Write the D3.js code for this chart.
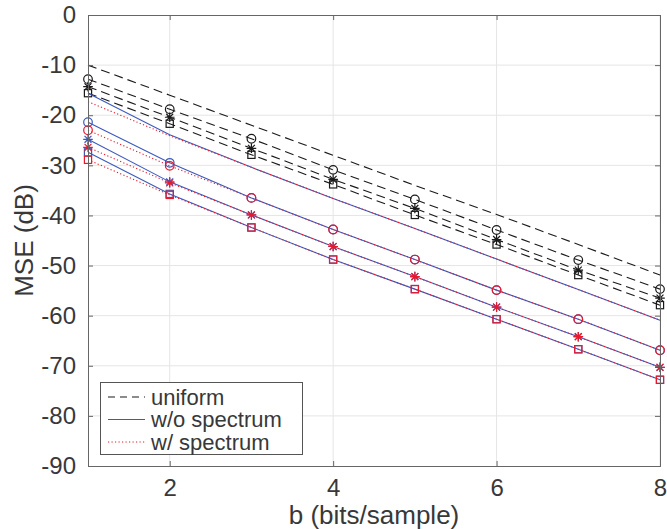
<!DOCTYPE html>
<html><head><meta charset="utf-8">
<script src="https://cdn.jsdelivr.net/npm/d3@7"></script>
<style>body{margin:0;background:#fff}svg{display:block}text{font-family:"Liberation Sans",Arial,sans-serif;fill:#383838}</style>
</head><body>
<svg id="c" width="667" height="529"></svg>
<script>
// ---- data ----
const bits = [1, 2, 3, 4, 5, 6, 7, 8];
const uniformBound = [-10.0, -16.0, -22.0, -28.0, -34.0, -39.8, -45.8, -51.9];
const uniformO     = [-12.8, -18.8, -24.7, -30.9, -36.8, -42.9, -48.9, -54.7];
const uniformStar  = [-14.3, -20.4, -26.6, -32.8, -38.6, -44.8, -50.9, -56.5];
const uniformSq    = [-15.6, -21.7, -27.9, -33.8, -39.9, -45.8, -51.9, -57.9];
const woBound = [-15.6, -23.9, -30.4, -36.6, -42.6, -48.7, -54.8, -60.9];
const woO     = [-21.4, -29.5, -36.5, -42.8, -48.8, -54.9, -60.7, -66.9];
const woStar  = [-24.8, -33.3, -39.9, -46.2, -52.2, -58.3, -64.2, -70.3];
const woSq    = [-27.4, -35.7, -42.4, -48.8, -54.7, -60.7, -66.7, -72.8];
const wBound  = [-17.3, -24.1, -30.4, -36.6, -42.6, -48.7, -54.8, -60.9];
const wO      = [-23.0, -30.1, -36.5, -42.8, -48.8, -54.9, -60.7, -66.9];
const wStar   = [-26.4, -33.5, -39.9, -46.2, -52.2, -58.3, -64.2, -70.3];
const wSq     = [-28.9, -35.9, -42.4, -48.8, -54.7, -60.7, -66.7, -72.8];
const xTicks = [2, 4, 6, 8];
const yTicks = [0, -10, -20, -30, -40, -50, -60, -70, -80, -90];
const legendLabels = ["uniform", "w/o spectrum", "w/ spectrum"];
const xLabel = "b (bits/sample)";
const yLabel = "MSE (dB)";

// ---- layout ----
const L = 88, R = 660, T = 15, B = 466;
const FONT = '"Liberation Sans",Arial,sans-serif';
const x = d3.scaleLinear().domain([1, 8]).range([L, R]);
const y = d3.scaleLinear().domain([-90, 0]).range([B, T]);
const svg = d3.select("#c");
const BLACK = "#1a1a1a", BLUE = "#3a59bd", RED = "#e8192c";
const styles = {
  uniform: {color: BLACK, dash: "9,5", mcolor: BLACK},
  wo: {color: BLUE, dash: null, mcolor: BLUE},
  w: {color: RED, dash: "1.2,2.3", mcolor: RED}
};

// grid
svg.append("g").selectAll("line").data(xTicks).join("line")
  .attr("x1", d => x(d)).attr("x2", d => x(d)).attr("y1", T).attr("y2", B)
  .attr("stroke", "#e5e5e5").attr("stroke-width", 1);
svg.append("g").selectAll("line").data(yTicks.filter(d => d > -90 && d < 0)).join("line")
  .attr("x1", L).attr("x2", R).attr("y1", d => y(d)).attr("y2", d => y(d))
  .attr("stroke", "#e5e5e5").attr("stroke-width", 1);

const line = d3.line().x((d, i) => x(bits[i])).y(d => y(d));

function marker(g, type, color, px, py) {
  if (type === "o") {
    g.append("circle").attr("cx", px).attr("cy", py).attr("r", 4.3)
      .attr("fill", "none").attr("stroke", color).attr("stroke-width", 1.2);
  } else if (type === "s") {
    g.append("rect").attr("x", px - 3.6).attr("y", py - 3.6).attr("width", 7.2).attr("height", 7.2)
      .attr("fill", "none").attr("stroke", color).attr("stroke-width", 1.2);
  } else if (type === "*") {
    const r = 4.8, d = r * 0.72;
    g.append("path").attr("d",
      `M${px - r},${py}L${px + r},${py}M${px},${py - r}L${px},${py + r}` +
      `M${px - d},${py - d}L${px + d},${py + d}M${px - d},${py + d}L${px + d},${py - d}`)
      .attr("stroke", color).attr("stroke-width", 1.2).attr("fill", "none");
  }
}

function series(vals, st, mtype) {
  const g = svg.append("g");
  const p = g.append("path").attr("d", line(vals)).attr("fill", "none")
    .attr("stroke", st.color).attr("stroke-width", 1.1);
  if (st.dash) p.attr("stroke-dasharray", st.dash);
  if (mtype) vals.forEach((v, i) => marker(g, mtype, st.mcolor, x(bits[i]), y(v)));
}

series(uniformBound, styles.uniform, null);
series(uniformO, styles.uniform, "o");
series(uniformStar, styles.uniform, "*");
series(uniformSq, styles.uniform, "s");
series(woBound, styles.wo, null);
series(woO, styles.wo, "o");
series(woStar, styles.wo, "*");
series(woSq, styles.wo, "s");
series(wBound, styles.w, null);
series(wO, styles.w, "o");
series(wStar, styles.w, "*");
series(wSq, styles.w, "s");

// axes
const axCol = "#666";
const xAxis = svg.append("g").attr("transform", `translate(0,${B})`)
  .call(d3.axisBottom(x).tickValues(xTicks).tickSize(-5).tickPadding(13).tickFormat(d3.format("d")));
const xAxisTop = svg.append("g").attr("transform", `translate(0,${T})`)
  .call(d3.axisTop(x).tickValues(xTicks).tickSize(-5).tickFormat(""));
const yAxis = svg.append("g").attr("transform", `translate(${L},0)`)
  .call(d3.axisLeft(y).tickValues(yTicks).tickSize(-5).tickPadding(12).tickFormat(d => String(d).replace("−", "-")));
const yAxisR = svg.append("g").attr("transform", `translate(${R},0)`)
  .call(d3.axisRight(y).tickValues(yTicks).tickSize(-5).tickFormat(""));
[xAxis, xAxisTop, yAxis, yAxisR].forEach(a => {
  a.selectAll("path").attr("stroke", axCol);
  a.selectAll("line").attr("stroke", axCol);
  a.selectAll("text").attr("font-size", 24).attr("fill", "#383838").attr("font-family", FONT);
});

// axis labels
svg.append("text").attr("x", (L + R) / 2).attr("y", 524).attr("text-anchor", "middle")
  .attr("font-size", 26).text(xLabel);
svg.append("text").attr("transform", `translate(33,${(T + B) / 2}) rotate(-90)`)
  .attr("text-anchor", "middle").attr("font-size", 26).text(yLabel);

// legend
const lg = svg.append("g");
lg.append("rect").attr("x", 100.5).attr("y", 382.5).attr("width", 202).attr("height", 72)
  .attr("fill", "#fff").attr("stroke", "#555").attr("stroke-width", 1);
const lst = [styles.uniform, styles.wo, styles.w];
legendLabels.forEach((lab, i) => {
  const cy = 397 + i * 22.5;
  const l = lg.append("line").attr("x1", 108).attr("x2", 145).attr("y1", cy).attr("y2", cy)
    .attr("stroke", lst[i].color).attr("stroke-width", 1.1);
  if (lst[i].dash) l.attr("stroke-dasharray", i === 0 ? "7,5" : lst[i].dash);
  lg.append("text").attr("x", 151).attr("y", cy).attr("dy", "0.35em")
    .attr("font-size", 22).text(lab);
});
</script>
</body></html>
